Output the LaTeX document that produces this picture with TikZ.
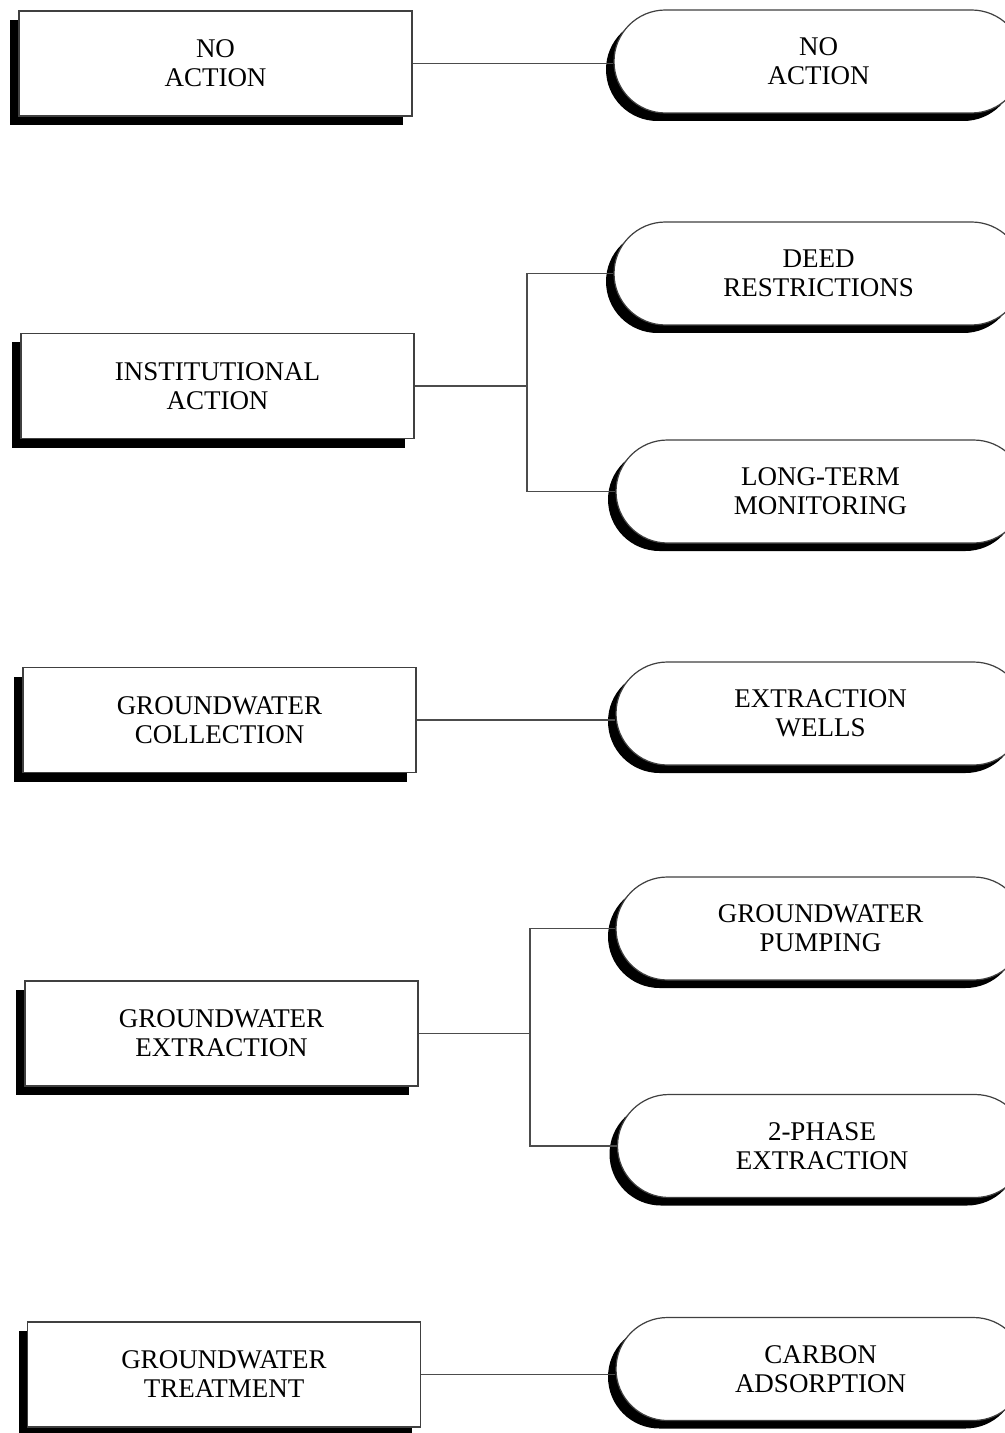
\documentclass[tikz,border=0pt]{standalone}
\usepackage{fontspec}
\setmainfont{Liberation Serif}
\usetikzlibrary{shapes.misc,shadows}

\tikzset{
  actionbox/.style={draw=black!75, line width=0.6pt, fill=white, align=center,
    minimum width=196.5pt, minimum height=52.5pt, inner sep=0pt,
    font=\fontsize{13.5}{14.5}\selectfont,
    drop shadow={shadow xshift=-4.5pt, shadow yshift=-4.5pt, opacity=1, fill=black}},
  optionbox/.style={draw=black!75, line width=0.6pt, fill=white, align=center,
    rounded rectangle, rounded rectangle arc length=180,
    minimum width=204.5pt, minimum height=51.5pt, inner sep=0pt,
    font=\fontsize{13.5}{14.5}\selectfont,
    drop shadow={shadow xshift=-4pt, shadow yshift=-4pt, opacity=1, fill=black}},
  link/.style={draw=black!70, line width=0.6pt}
}

\begin{document}
\begin{tikzpicture}[x=0.5pt, y=-0.5pt]
  \useasboundingbox (0,0) rectangle (1005,1433);

  % general response actions
  \node[actionbox] (noact)   at (215.5, 63.5)  {NO\\ACTION};
  \node[actionbox] (inst)    at (217.5, 386)   {INSTITUTIONAL\\ACTION};
  \node[actionbox] (collect) at (219.5, 720)   {GROUNDWATER\\COLLECTION};
  \node[actionbox] (extract) at (221.5, 1033.5) {GROUNDWATER\\EXTRACTION};
  \node[actionbox] (treat)   at (224, 1374.5)  {GROUNDWATER\\TREATMENT};

  % process options
  \node[optionbox] (noopt)   at (818.5, 61.5)  {NO\\ACTION};
  \node[optionbox] (deed)    at (818.5, 273.5) {DEED\\RESTRICTIONS};
  \node[optionbox] (monitor) at (820.5, 491.5) {LONG-TERM\\MONITORING};
  \node[optionbox] (wells)   at (820.5, 713.5) {EXTRACTION\\WELLS};
  \node[optionbox] (pump)    at (820.5, 928.5) {GROUNDWATER\\PUMPING};
  \node[optionbox] (twophase) at (822, 1146)   {2-PHASE\\EXTRACTION};
  \node[optionbox] (carbon)  at (820.5, 1369)  {CARBON\\ADSORPTION};

  % connectors
  \draw[link] (noact.east) -- (noact.east -| noopt.west);
  \coordinate (instfork) at (527, 386);
  \draw[link] (inst.east) -- (instfork);
  \draw[link] (instfork) |- (deed.west);
  \draw[link] (instfork) |- (monitor.west);
  \draw[link] (collect.east) -- (collect.east -| wells.west);
  \coordinate (extrfork) at (530, 1033.5);
  \draw[link] (extract.east) -- (extrfork);
  \draw[link] (extrfork) |- (pump.west);
  \draw[link] (extrfork) |- (twophase.west);
  \draw[link] (treat.east) -- (treat.east -| carbon.west);
\end{tikzpicture}
\end{document}
